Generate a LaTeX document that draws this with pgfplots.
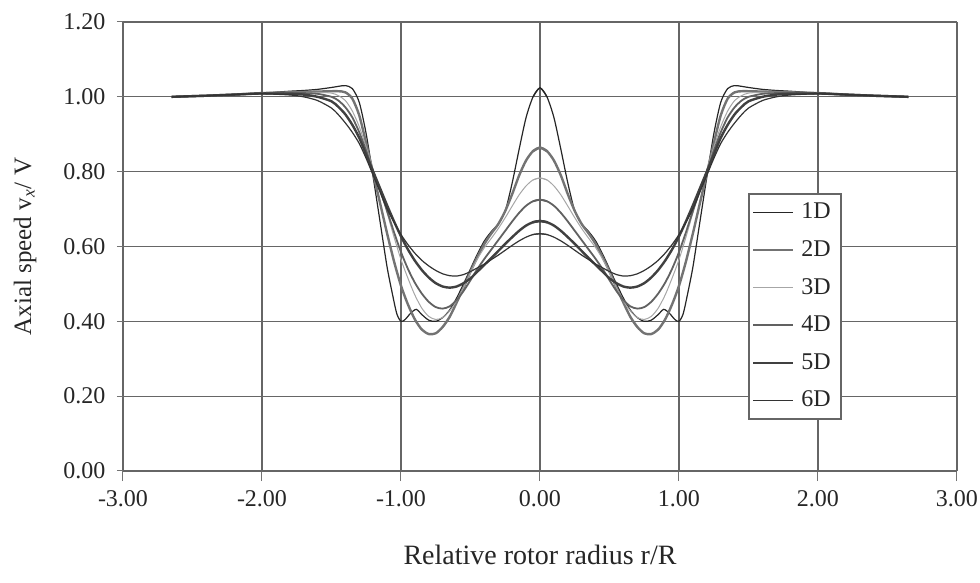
\documentclass[border=0pt]{standalone}
\usepackage{pgfplots}
\usepackage{pgfplotstable}
\pgfplotsset{compat=1.18}
\usepackage{fontspec}
\setmainfont{Liberation Serif}

\pgfplotstableread{
r v
-0.05 1.0
0 1.024
0.05 1.0
0.1 0.945
0.15 0.86
0.2 0.77
0.25 0.695
0.3 0.66
0.35 0.64
0.4 0.615
0.45 0.58
0.5 0.54
0.55 0.50
0.6 0.462
0.65 0.43
0.7 0.41
0.75 0.40
0.8 0.403
0.85 0.418
0.89 0.432
0.93 0.422
0.97 0.405
1.0 0.40
1.03 0.42
1.06 0.47
1.1 0.545
1.15 0.665
1.2 0.785
1.25 0.90
1.3 0.985
1.35 1.022
1.4 1.03
1.45 1.028
1.5 1.025
1.6 1.02
1.7 1.017
1.8 1.015
2.0 1.01
2.2 1.006
2.4 1.003
2.65 1.0
}\dA
\pgfplotstableread{
r v
-0.05 0.855
0 0.864
0.05 0.855
0.1 0.83
0.15 0.79
0.2 0.74
0.25 0.695
0.3 0.66
0.35 0.635
0.4 0.607
0.45 0.572
0.5 0.533
0.55 0.49
0.6 0.45
0.65 0.412
0.7 0.385
0.75 0.368
0.8 0.366
0.85 0.378
0.9 0.405
0.95 0.445
1.0 0.495
1.05 0.56
1.1 0.635
1.15 0.715
1.2 0.795
1.25 0.875
1.3 0.95
1.35 0.995
1.4 1.012
1.45 1.015
1.5 1.015
1.6 1.014
1.7 1.013
1.8 1.012
2.0 1.01
2.2 1.006
2.4 1.003
2.65 1.0
}\dB
\pgfplotstableread{
r v
-0.05 0.778
0 0.783
0.05 0.778
0.1 0.762
0.15 0.738
0.2 0.708
0.25 0.677
0.3 0.648
0.35 0.622
0.4 0.597
0.45 0.567
0.5 0.530
0.55 0.490
0.6 0.455
0.65 0.428
0.7 0.410
0.75 0.405
0.8 0.413
0.85 0.435
0.9 0.470
0.95 0.515
1.0 0.565
1.05 0.625
1.1 0.69
1.15 0.75
1.2 0.805
1.25 0.865
1.3 0.92
1.35 0.962
1.4 0.99
1.45 1.003
1.5 1.01
1.6 1.012
1.7 1.012
1.8 1.011
2.0 1.009
2.2 1.006
2.4 1.003
2.65 1.0
}\dC
\pgfplotstableread{
r v
-0.05 0.721
0 0.725
0.05 0.721
0.1 0.709
0.15 0.690
0.2 0.667
0.25 0.642
0.3 0.617
0.35 0.592
0.4 0.567
0.45 0.540
0.5 0.510
0.55 0.481
0.6 0.457
0.65 0.440
0.7 0.434
0.75 0.438
0.8 0.452
0.85 0.474
0.9 0.503
0.95 0.540
1.0 0.585
1.05 0.638
1.1 0.695
1.15 0.75
1.2 0.80
1.25 0.855
1.3 0.905
1.35 0.945
1.4 0.972
1.45 0.99
1.5 1.0
1.6 1.008
1.7 1.01
1.8 1.01
2.0 1.009
2.2 1.006
2.4 1.003
2.65 1.0
}\dD
\pgfplotstableread{
r v
-0.05 0.665
0 0.668
0.05 0.665
0.1 0.656
0.15 0.642
0.2 0.625
0.25 0.607
0.3 0.588
0.35 0.569
0.4 0.551
0.45 0.533
0.5 0.515
0.55 0.502
0.6 0.493
0.65 0.490
0.7 0.493
0.75 0.502
0.8 0.517
0.85 0.537
0.9 0.562
0.95 0.592
1.0 0.627
1.05 0.667
1.1 0.71
1.15 0.755
1.2 0.80
1.25 0.845
1.3 0.89
1.35 0.925
1.4 0.953
1.45 0.973
1.5 0.988
1.6 1.0
1.7 1.006
1.8 1.008
2.0 1.009
2.2 1.006
2.4 1.003
2.65 1.0
}\dE
\pgfplotstableread{
r v
-0.05 0.632
0 0.634
0.05 0.632
0.1 0.625
0.15 0.615
0.2 0.603
0.25 0.590
0.3 0.577
0.35 0.565
0.4 0.553
0.45 0.543
0.5 0.533
0.55 0.525
0.6 0.521
0.65 0.522
0.7 0.527
0.75 0.536
0.8 0.548
0.85 0.563
0.9 0.582
0.95 0.605
1.0 0.632
1.05 0.665
1.1 0.70
1.15 0.745
1.2 0.79
1.25 0.835
1.3 0.875
1.35 0.905
1.4 0.93
1.45 0.952
1.5 0.97
1.6 0.99
1.7 1.0
1.8 1.005
2.0 1.008
2.2 1.006
2.4 1.003
2.65 1.0
}\dF

\newcommand{\both}[3]{%
  \addplot[#2, smooth, tension=0.45] table[x=r,y=v]{#1};
  \addlegendentry{#3}
  \addplot[#2, smooth, tension=0.45, forget plot] table[x expr=-\thisrow{r},y=v]{#1};
}

\begin{document}
\begin{tikzpicture}
\useasboundingbox (-61.5pt,-56pt) rectangle (428.5pt,235.5pt);
\begin{axis}[
  at={(0,0)}, anchor=south west,
  scale only axis, width=417pt, height=224.5pt,
  xmin=-3, xmax=3, ymin=0, ymax=1.2,
  xtick={-3,-2,-1,1,2,3}, extra x ticks={0},
  ytick={0.2,0.6,0.8,1.0,1.2}, extra y ticks={0,0.4},
  extra x tick style={grid style={black!22, line width=0.7pt}},
  extra y tick style={grid style={black!22, line width=0.8pt}},
  grid=major,
  major grid style={black!60, line width=0.6pt},
  axis line style={draw=none},
  tick align=outside, xtick pos=bottom, ytick pos=left,
  tick style={black!55, line width=0.5pt},
  xtick style={/pgfplots/major tick length=5pt},
  ytick style={/pgfplots/major tick length=3pt},
  /pgf/number format/.cd, fixed, fixed zerofill, precision=2, assume math mode=true, /pgfplots/.cd,
  ticklabel style={font=\fontsize{12}{14}\selectfont, text=black!85},
  xticklabel style={yshift=-2pt},
  yticklabel style={xshift=-1pt},
  xlabel={Relative rotor radius r/R},
  ylabel={Axial speed v\textsubscript{\textit{x}}/ V},
  every axis x label/.style={at={(axis description cs:0.5,-0.187)}, anchor=center,
    font=\fontsize{14}{16}\selectfont, text=black!85},
  every axis y label/.style={at={(axis description cs:-0.1175,0.5)}, rotate=90, anchor=center,
    font=\fontsize{12.5}{14}\selectfont, text=black!85},
  legend style={at={(axis cs:2.17,0.743)}, anchor=north east, draw=black!60, line width=0.8pt,
    fill=white, font=\fontsize{12}{14}\selectfont, text=black!85, row sep=5.4pt,
    inner xsep=1.5pt, inner ysep=2.5pt, nodes={inner xsep=3.5pt}},
  legend cell align=left,
  legend image code/.code={\draw[#1] (0pt,0pt) -- (20pt,0pt);},
]
\both{\dA}{black!85, line width=0.6pt}{1D}
\both{\dB}{black!55, line width=1.2pt}{2D}
\both{\dC}{black!35, line width=0.5pt}{3D}
\both{\dD}{black!62, line width=0.9pt}{4D}
\both{\dE}{black!75, line width=1.2pt}{5D}
\both{\dF}{black!80, line width=0.6pt}{6D}
\end{axis}
\end{tikzpicture}
\end{document}
